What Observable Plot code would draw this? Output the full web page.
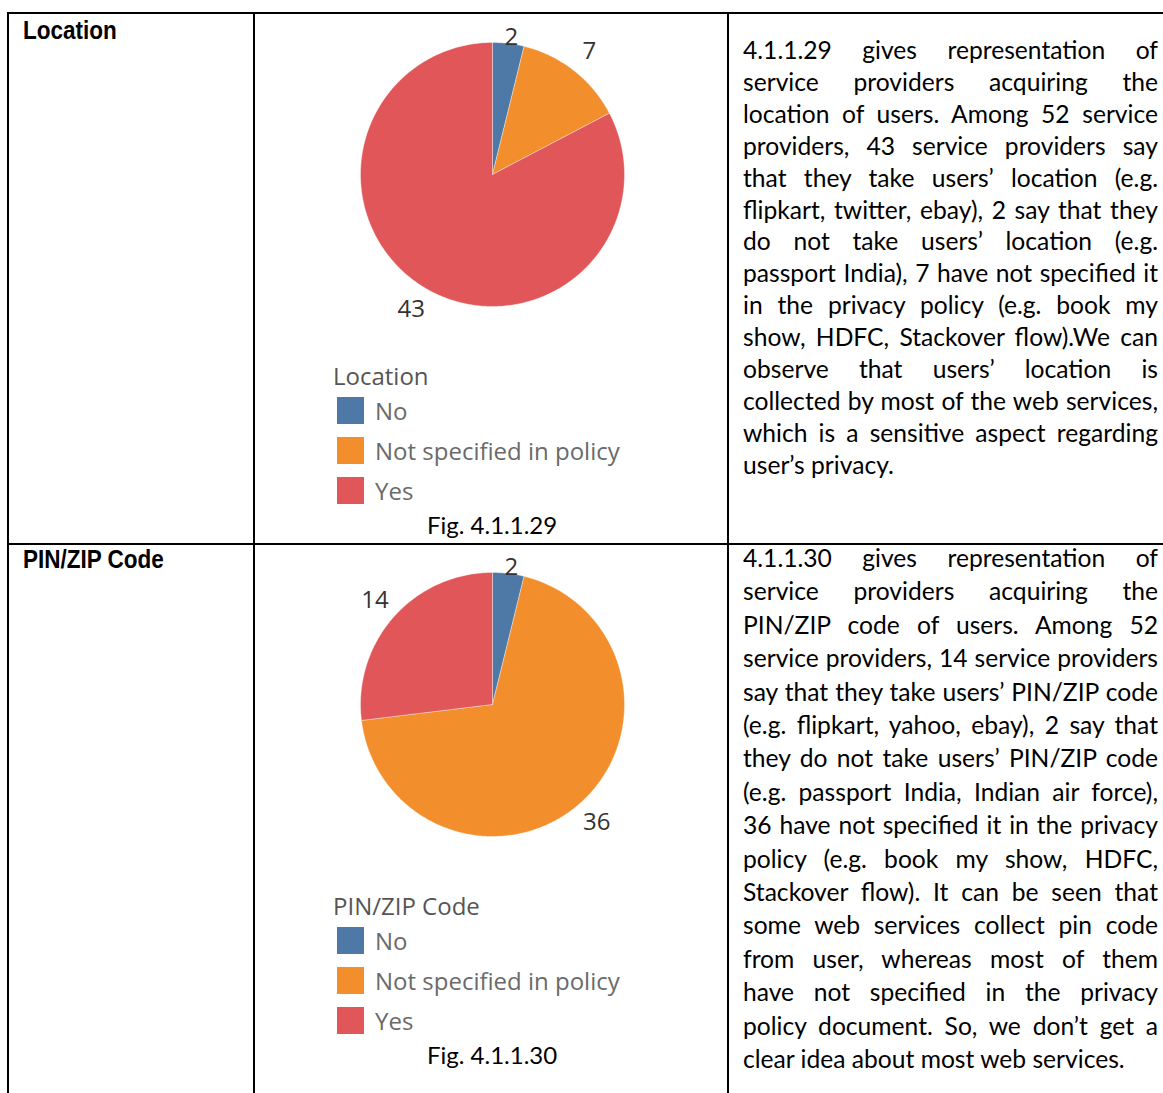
<!DOCTYPE html>
<html><head><meta charset="utf-8">
<script src="https://cdn.jsdelivr.net/npm/d3@7"></script>
<script src="https://cdn.jsdelivr.net/npm/@observablehq/plot@0.6"></script>
<style>
html,body{margin:0;padding:0;background:#fff;}
body{width:1163px;height:1093px;overflow:hidden;position:relative;}
.ln{position:absolute;background:#000;}
.abs{position:absolute;white-space:nowrap;}
.pline{position:absolute;left:743px;width:415px;white-space:normal;text-align:justify;text-align-last:justify;font-family:Lato,sans-serif;color:#000;}
.pline.last{text-align-last:left;}
.mk{display:inline-block;width:0;height:0;vertical-align:baseline;}
.sw{position:absolute;width:27px;height:27px;}
.chart{position:absolute;}
</style></head>
<body>
<script>
// ---------- data ----------
const categories = ["No", "Not specified in policy", "Yes"];
const colors = ["#4e79a7", "#f28e2b", "#e15759"];
const locationValues = [2, 7, 43];
const pinzipValues = [2, 36, 14];
const rowHeaders = ["Location", "PIN/ZIP Code"];
const legendTitles = ["Location", "PIN/ZIP Code"];
const figCaptions = ["Fig. 4.1.1.29", "Fig. 4.1.1.30"];
const para1Lines = [
  "4.1.1.29 gives representation of",
  "service providers acquiring the",
  "location of users. Among 52 service",
  "providers, 43 service providers say",
  "that they take users\u2019 location (e.g.",
  "flipkart, twitter, ebay), 2 say that they",
  "do not take users\u2019 location (e.g.",
  "passport India), 7 have not specified it",
  "in the privacy policy (e.g. book my",
  "show, HDFC, Stackover flow).We can",
  "observe that users\u2019 location is",
  "collected by most of the web services,",
  "which is a sensitive aspect regarding",
  "user\u2019s privacy."
];
const para2Lines = [
  "4.1.1.30 gives representation of",
  "service providers acquiring the",
  "PIN/ZIP code of users. Among 52",
  "service providers, 14 service providers",
  "say that they take users\u2019 PIN/ZIP code",
  "(e.g. flipkart, yahoo, ebay), 2 say that",
  "they do not take users\u2019 PIN/ZIP code",
  "(e.g. passport India, Indian air force),",
  "36 have not specified it in the privacy",
  "policy (e.g. book my show, HDFC,",
  "Stackover flow). It can be seen that",
  "some web services collect pin code",
  "from user, whereas most of them",
  "have not specified in the privacy",
  "policy document. So, we don\u2019t get a",
  "clear idea about most web services."
];

// ---------- helpers ----------
const body = document.body;
function line(l, t, w, h) {
  const d = document.createElement("div");
  d.className = "ln";
  Object.assign(d.style, {left: l + "px", top: t + "px", width: w + "px", height: h + "px"});
  body.appendChild(d);
}
function placeText(text, css, x, baseline, align, sx) {
  const d = document.createElement("div");
  d.className = "abs";
  Object.assign(d.style, css);
  const mk = document.createElement("span");
  mk.className = "mk";
  d.appendChild(mk);
  d.appendChild(document.createTextNode(text));
  d.style.left = "0px"; d.style.top = "0px";
  body.appendChild(d);
  const off = mk.offsetTop;
  const w = d.offsetWidth;
  d.style.top = (baseline - off) + "px";
  d.style.left = (align === "middle" ? x - w / 2 : x) + "px";
  if (sx) { d.style.transformOrigin = "0 0"; d.style.transform = "scaleX(" + sx + ")"; }
  return d;
}
function paragraph(lines, b0, lh, fontSize) {
  lines.forEach((t, i) => {
    const d = document.createElement("div");
    d.className = "pline" + (i === lines.length - 1 ? " last" : "");
    d.style.fontSize = fontSize + "px";
    d.style.lineHeight = lh + "px";
    const mk = document.createElement("span");
    mk.className = "mk";
    d.appendChild(mk);
    d.appendChild(document.createTextNode(t));
    d.style.top = "0px";
    body.appendChild(d);
    const off = mk.offsetTop;
    d.style.top = (b0 + i * lh - off) + "px";
  });
}
const ctx = document.createElement("canvas").getContext("2d");
function textW(t, size) { ctx.font = size + "px Lato"; return ctx.measureText(t).width; }

function pieChart(values) {
  const data = categories.map((c, i) => ({cat: c, value: values[i]}));
  const arcs = d3.pie().sort(null).value(d => d.value)(data);
  const pts = [];
  for (const a of arcs) {
    const n = Math.max(2, Math.ceil((a.endAngle - a.startAngle) / (Math.PI / 180)));
    pts.push({cat: a.data.cat, x: 0, y: 0});
    for (let k = 0; k <= n; k++) {
      const t = a.startAngle + (a.endAngle - a.startAngle) * k / n;
      pts.push({cat: a.data.cat, x: Math.sin(t), y: Math.cos(t)});
    }
    pts.push({cat: a.data.cat, x: 0, y: 0});
  }
  const labels = arcs.map(a => {
    const m = (a.startAngle + a.endAngle) / 2;
    return {text: String(a.data.value), x: 1.19 * Math.sin(m), y: Math.min(1.04, 1.19 * Math.cos(m))};
  });
  return Plot.plot({
    width: 340, height: 335, margin: 0,
    x: {domain: [-170 / 132, 170 / 132], axis: null},
    y: {domain: [-175 / 132, 160 / 132], axis: null},
    color: {domain: categories, range: colors},
    style: {background: "transparent", overflow: "visible"},
    marks: [
      Plot.line(pts, {x: "x", y: "y", z: "cat", fill: "cat", stroke: "#ffffff", strokeWidth: 0.6, strokeOpacity: 0.6, curve: "linear"}),
      Plot.text(labels, {x: "x", y: "y", text: "text", fontSize: 24, fill: "#333333", fontFamily: "Open Sans"})
    ]
  });
}

// ---------- table rules ----------
line(7, 12, 1163 - 7, 2);
line(7, 543, 1163 - 7, 2);
line(7, 12, 2, 1093 - 12);
line(253, 12, 2, 1093 - 12);
line(727, 12, 2, 1093 - 12);

// ---------- rows ----------
const hdrCss = {fontFamily: "'Liberation Sans',sans-serif", fontWeight: "bold", fontSize: "25px", color: "#000"};
placeText(rowHeaders[0], hdrCss, 23, 39, null, 0.9);
placeText(rowHeaders[1], hdrCss, 23, 568, null, 0.9);

const valuesByRow = [locationValues, pinzipValues];
valuesByRow.forEach((vals, r) => {
  const dy = r * 530;
  const holder = document.createElement("div");
  holder.className = "chart";
  holder.style.left = "322px";
  holder.style.top = (14 + dy) + "px";
  holder.appendChild(pieChart(vals));
  body.appendChild(holder);
  placeText(legendTitles[r], {fontFamily: "'Open Sans',sans-serif", fontSize: "24px", color: "#555"}, 333, 385 + dy);
  categories.forEach((c, i) => {
    const s = document.createElement("div");
    s.className = "sw";
    s.style.left = "337px";
    s.style.top = (397 + dy + i * 40) + "px";
    s.style.background = colors[i];
    body.appendChild(s);
    placeText(c, {fontFamily: "'Open Sans',sans-serif", fontSize: "24px", color: "#6a6a6a"}, 375, 420 + dy + i * 40);
  });
  placeText(figCaptions[r], {fontFamily: "Lato,sans-serif", fontSize: "24px", color: "#000"}, 492, 534 + dy, "middle");
});

// paragraph font: natural width of the (unjustified) last line ≈ 385px, no justified line over 413px
const lastLine = para2Lines[para2Lines.length - 1];
let pSize = 22 * 385 / textW(lastLine, 22);
const justified = para1Lines.slice(0, -1).concat(para2Lines.slice(0, -1));
const maxW = Math.max(...justified.map(t => textW(t, pSize)));
if (maxW > 413) pSize = pSize * 413 / maxW;
paragraph(para1Lines, 59, 31.9, pSize);
paragraph(para2Lines, 567, 33.4, pSize);
</script>
</body></html>
